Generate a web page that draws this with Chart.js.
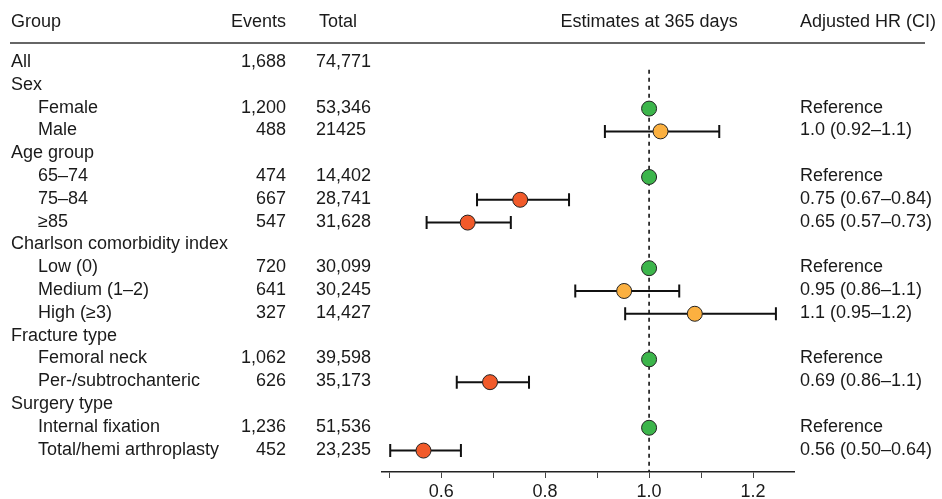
<!DOCTYPE html>
<html>
<head>
<meta charset="utf-8">
<script src="https://cdn.jsdelivr.net/npm/chart.js@4"></script>
<style>
  body { margin: 0; background: #fff; }
  canvas { display: block; }
</style>
</head>
<body>
<canvas id="forest" width="942" height="499"></canvas>
<script>
// rows of the table, top to bottom
const groups = ['All', 'Sex', 'Female', 'Male', 'Age group', '65–74', '75–84', '≥85',
  'Charlson comorbidity index', 'Low (0)', 'Medium (1–2)', 'High (≥3)',
  'Fracture type', 'Femoral neck', 'Per-/subtrochanteric',
  'Surgery type', 'Internal fixation', 'Total/hemi arthroplasty'];
const indented = [0, 0, 1, 1, 0, 1, 1, 1, 0, 1, 1, 1, 0, 1, 1, 0, 1, 1];
const events = ['1,688', '', '1,200', '488', '', '474', '667', '547', '', '720', '641', '327', '', '1,062', '626', '', '1,236', '452'];
const totals = ['74,771', '', '53,346', '21425', '', '14,402', '28,741', '31,628', '', '30,099', '30,245', '14,427', '', '39,598', '35,173', '', '51,536', '23,235'];
const hrLabels = ['', '', 'Reference', '1.0 (0.92–1.1)', '', 'Reference', '0.75 (0.67–0.84)', '0.65 (0.57–0.73)', '',
  'Reference', '0.95 (0.86–1.1)', '1.1 (0.95–1.2)', '', 'Reference', '0.69 (0.86–1.1)', '', 'Reference', '0.56 (0.50–0.64)'];

// estimates
const estimates = [null, null, 1, 1.022, null, 1, 0.752, 0.651, null, 1, 0.952, 1.088, null, 1, 0.694, null, 1, 0.566];
const lower = [null, null, null, 0.915, null, null, 0.669, 0.572, null, null, 0.858, 0.954, null, null, 0.630, null, null, 0.502];
const upper = [null, null, null, 1.135, null, null, 0.846, 0.734, null, null, 1.058, 1.244, null, null, 0.769, null, null, 0.638];
const status = [null, null, 'ref', 'ns', null, 'ref', 'sig', 'sig', null, 'ref', 'ns', 'ns', null, 'ref', 'sig', null, 'ref', 'sig'];

const xTicks = [0.5, 0.6, 0.7, 0.8, 0.9, 1.0, 1.1, 1.2];

const colors = { ref: '#3cb54b', ns: '#fbb040', sig: '#f15a2a' };
const FONT = '18px "Liberation Sans", Arial, sans-serif';
const INK = '#1a1a1a';

const points = [];
const pointColors = [];
estimates.forEach((v, i) => {
  if (v !== null) {
    points.push({ x: v, y: i });
    pointColors.push(colors[status[i]]);
  }
});

// draws the CI whiskers under the points
const whiskers = {
  id: 'whiskers',
  beforeDatasetsDraw(chart) {
    const ctx = chart.ctx, xs = chart.scales.x, ys = chart.scales.y;
    ctx.save();
    ctx.strokeStyle = '#111';
    ctx.lineWidth = 2;
    lower.forEach((lo, i) => {
      if (lo === null) return;
      const y = ys.getPixelForValue(i);
      const x1 = xs.getPixelForValue(lo), x2 = xs.getPixelForValue(upper[i]);
      ctx.beginPath();
      ctx.moveTo(x1, y); ctx.lineTo(x2, y);
      ctx.moveTo(x1, y - 6.5); ctx.lineTo(x1, y + 6.5);
      ctx.moveTo(x2, y - 6.5); ctx.lineTo(x2, y + 6.5);
      ctx.stroke();
    });
    ctx.restore();
  }
};

// table text on both sides
const table = {
  id: 'table',
  afterDraw(chart) {
    const ctx = chart.ctx, ys = chart.scales.y, xs = chart.scales.x;
    ctx.save();
    ctx.font = FONT;
    ctx.fillStyle = INK;
    ctx.textBaseline = 'middle';

    // header
    const hy = 22;
    ctx.textAlign = 'left';
    ctx.fillText('Group', 11, hy);
    ctx.textAlign = 'right';
    ctx.fillText('Events', 286, hy);
    ctx.textAlign = 'left';
    ctx.fillText('Total', 319, hy);
    ctx.textAlign = 'center';
    ctx.fillText('Estimates at 365 days', xs.getPixelForValue(1), hy);
    ctx.textAlign = 'left';
    ctx.fillText('Adjusted HR (CI)', 800, hy);

    ctx.strokeStyle = '#333';
    ctx.lineWidth = 1.3;
    ctx.beginPath();
    ctx.moveTo(10, 43); ctx.lineTo(925, 43);
    ctx.stroke();

    groups.forEach((g, i) => {
      const y = ys.getPixelForValue(i) - 1;
      ctx.textAlign = 'left';
      ctx.fillText(g, indented[i] ? 38 : 11, y);
      ctx.textAlign = 'right';
      ctx.fillText(events[i], 286, y);
      ctx.textAlign = 'left';
      ctx.fillText(totals[i], 316, y);
      ctx.fillText(hrLabels[i], 800, y);
    });
    ctx.restore();
  }
};

new Chart(document.getElementById('forest'), {
  type: 'scatter',
  data: {
    datasets: [
      {
        label: 'Estimate',
        data: points,
        pointRadius: 7.5,
        pointHoverRadius: 7.5,
        pointBackgroundColor: pointColors,
        pointBorderColor: '#222',
        pointBorderWidth: 1,
        order: 1
      },
      {
        label: 'No effect',
        type: 'line',
        data: [{ x: 1, y: 0.3 }, { x: 1, y: 17.94 }],
        borderColor: '#111',
        borderWidth: 1.6,
        borderDash: [4, 4],
        pointRadius: 0,
        showLine: true,
        order: 3
      }
    ]
  },
  options: {
    responsive: false,
    animation: false,
    devicePixelRatio: 1,
    layout: { padding: { left: 381.7, right: 148, top: 43, bottom: 0 } },
    plugins: { legend: { display: false }, tooltip: { enabled: false } },
    scales: {
      x: {
        type: 'linear',
        min: 0.4856,
        max: 1.2788,
        afterBuildTicks: (scale) => { scale.ticks = xTicks.map(v => ({ value: v })); },
        afterFit: (scale) => { scale.height = 27; },
        ticks: {
          autoSkip: false,
          maxRotation: 0,
          padding: 3,
          color: INK,
          font: { family: '"Liberation Sans", Arial, sans-serif', size: 18 },
          callback: (v) => (Math.round(v * 10) % 2 === 0 ? v.toFixed(1) : '')
        },
        grid: { drawOnChartArea: false, tickLength: 6, color: '#444', lineWidth: 1 },
        border: { display: true, color: '#222', width: 1.5 }
      },
      y: {
        type: 'linear',
        reverse: true,
        min: -0.877,
        max: 17.94,
        display: false
      }
    }
  },
  plugins: [whiskers, table]
});
</script>
</body>
</html>
